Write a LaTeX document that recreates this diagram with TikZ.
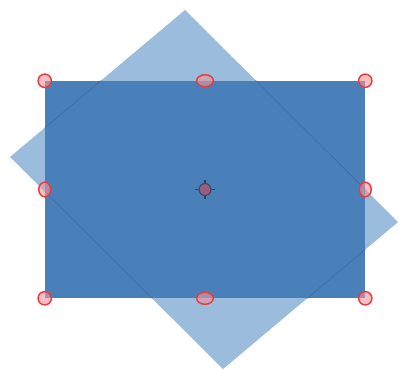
\documentclass[tikz,border=0pt]{standalone}
\usetikzlibrary{shapes.geometric, positioning}
\definecolor{boxblue}{RGB}{74,128,186}
\definecolor{tiltblue}{RGB}{155,188,220}
\definecolor{edgeblue}{RGB}{40,80,140}
\definecolor{handlered}{RGB}{230,60,66}
\definecolor{pivotgray}{RGB}{55,62,92}
\tikzset{
    boxrect/.style={rectangle, fill=boxblue, inner sep=0pt, minimum width=240pt, minimum height=162.75pt},
    tiltshape/.style={fill=tiltblue},
    tiltedge/.style={draw=edgeblue, draw opacity=0.35, line width=0.6pt},
    grip/.style={ellipse, draw=handlered, fill=handlered!55, fill opacity=0.6, line width=1.1pt, inner sep=0pt},
    cornergrip/.style={grip, minimum width=10pt, minimum height=10pt},
    wgrip/.style={grip, minimum width=12.5pt, minimum height=9pt},
    hgrip/.style={grip, minimum width=9pt, minimum height=11pt},
    pivot/.style={circle, draw=pivotgray, draw opacity=0.8, fill=handlered!50!boxblue, line width=0.9pt, inner sep=0pt, minimum size=9pt},
    pivottick/.style={pivotgray, line width=1pt}
}

\begin{document}
\begin{tikzpicture}[x=0.75pt, y=-0.75pt]
\useasboundingbox (0,0) rectangle (398,369);

% tilted copy
\coordinate (ttop) at (185,10);
\coordinate (tleft) at (10,157);
\coordinate (tbottom) at (223,369);
\coordinate (tright) at (398,222);
\fill[tiltshape] (ttop) -- (tright) -- (tbottom) -- (tleft) -- cycle;

% selected box
\node[boxrect] (box) at (205,189.5) {};
\begin{scope}
  \clip (box.south west) rectangle (box.north east);
  \draw[tiltedge] (ttop) -- (tright) -- (tbottom) -- (tleft) -- cycle;
\end{scope}

% handles
\node[cornergrip] (nw) at (box.north west) {};
\node[cornergrip] (ne) at (box.north east) {};
\node[cornergrip] (sw) at (box.south west) {};
\node[cornergrip] (se) at (box.south east) {};
\node[wgrip] (n) at (box.north) {};
\node[wgrip] (s) at (box.south) {};
\node[hgrip] (w) at (box.west) {};
\node[hgrip] (e) at (box.east) {};

% rotation centre
\node[pivot] (centre) at (box.center) {};
\draw[pivottick] (centre.north) -- ++(0,-3);
\draw[pivottick] (centre.south) -- ++(0,3);
\draw[pivottick] (centre.west) -- ++(-3,0);
\draw[pivottick] (centre.east) -- ++(3,0);

\end{tikzpicture}
\end{document}
